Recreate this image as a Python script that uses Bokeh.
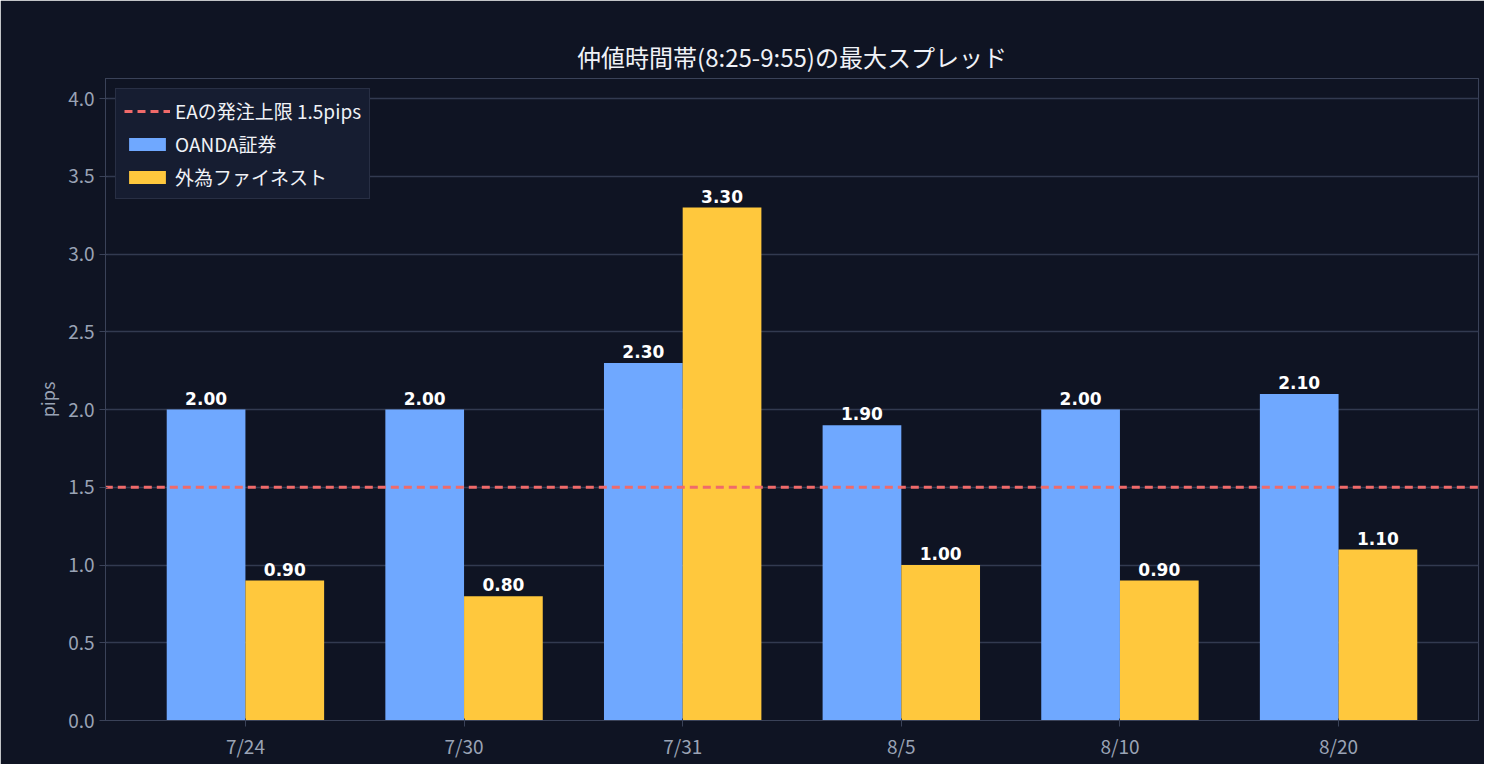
from bokeh.plotting import figure
from bokeh.models import Range1d, FixedTicker, ColumnDataSource, LabelSet, Legend, LegendItem
from bokeh.core.properties import value
from bokeh.embed import file_html
from bokeh.resources import INLINE

dates = ["7/24", "7/30", "7/31", "8/5", "8/10", "8/20"]
oanda = [2.00, 2.00, 2.30, 1.90, 2.00, 2.10]
gaitame = [0.90, 0.80, 3.30, 1.00, 0.90, 1.10]
limit = 1.5

FONT = "Noto Sans CJK JP"
BG = "#0f1423"
xs = list(range(len(dates)))
w = 0.36

p = figure(width=1484, height=764, output_backend="svg", toolbar_location=None,
           x_range=Range1d(-0.64, len(dates) - 1 + 0.64), y_range=Range1d(0, 4.13),
           min_border_left=105, min_border_right=6, min_border_top=78, min_border_bottom=44,
           background_fill_color=BG, border_fill_color=BG)
p.title.text = "仲値時間帯(8:25-9:55)の最大スプレッド"
p.title.align = "center"
p.title.text_color = "#f0f2f7"
p.title.text_font = FONT
p.title.text_font_size = "24px"
p.title.text_font_style = "normal"
p.title.offset = 0
p.outline_line_color = "#3a4258"

s1 = ColumnDataSource(dict(x=[x - w / 2 for x in xs], y=oanda, t=[f"{v:.2f}" for v in oanda]))
s2 = ColumnDataSource(dict(x=[x + w / 2 for x in xs], y=gaitame, t=[f"{v:.2f}" for v in gaitame]))
r1 = p.vbar(x="x", top="y", width=w, source=s1, color="#6fa8ff", line_color=None)
r2 = p.vbar(x="x", top="y", width=w, source=s2, color="#ffc83d", line_color=None)
for s in (s1, s2):
    p.add_layout(LabelSet(x="x", y="y", text="t", source=s, text_align="center", y_offset=5,
                          text_color="white", text_font_style="bold", text_font_size="17px",
                          text_font=value("DejaVu Sans")))
ln = p.line([-1, 10], [limit, limit], line_color="#f06a6a", line_width=3, line_dash="8 5")

p.xaxis.ticker = FixedTicker(ticks=xs)
p.xaxis.major_label_overrides = {i: d for i, d in enumerate(dates)}
p.yaxis.ticker = FixedTicker(ticks=[0, 0.5, 1, 1.5, 2, 2.5, 3, 3.5, 4])
p.yaxis.major_label_overrides = {v: f"{v:.1f}" for v in [0, 0.5, 1, 1.5, 2, 2.5, 3, 3.5, 4]}
p.yaxis.axis_label = "pips"
for ax in (p.xaxis[0], p.yaxis[0]):
    ax.axis_line_color = "#3a4258"
    ax.major_tick_line_color = "#3a4258"
    ax.minor_tick_line_color = None
    ax.major_label_text_color = "#9aa3b5"
    ax.major_label_text_font_size = "19px"
    ax.major_label_text_font = FONT
    ax.axis_label_text_color = "#9aa3b5"
    ax.axis_label_text_font = FONT
    ax.axis_label_text_font_size = "18px"
    ax.axis_label_text_font_style = "normal"
p.xgrid.grid_line_color = None
p.ygrid.grid_line_color = "#323a50"
p.ygrid.grid_line_width = 1.5

leg = Legend(items=[LegendItem(label="EAの発注上限 1.5pips", renderers=[ln]),
                    LegendItem(label="OANDA証券", renderers=[r1]),
                    LegendItem(label="外為ファイネスト", renderers=[r2])],
             location="top_left", background_fill_color="#161d31", background_fill_alpha=1,
             border_line_color="#3a4258", label_text_color="#f0f2f7", label_text_font=FONT,
             label_text_font_size="19px", glyph_width=46, glyph_height=16, spacing=6,
             padding=8, margin=10)
p.add_layout(leg)

open("out.html", "w").write(file_html(p, INLINE))
